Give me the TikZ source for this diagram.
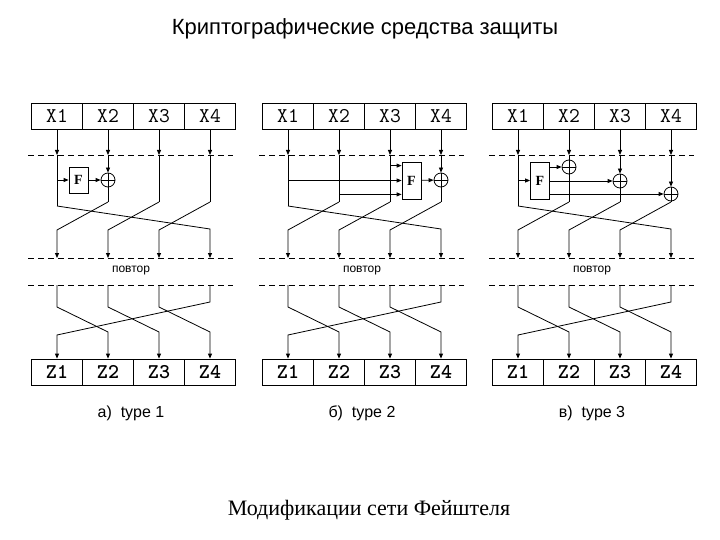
\documentclass[tikz,border=0pt]{standalone}
\usepackage{fontspec}
\setmainfont{Liberation Serif}
\setsansfont{Liberation Sans}
\usetikzlibrary{arrows.meta}

\begin{document}
\begin{tikzpicture}[x=1pt,y=-1pt,line width=0.8pt,
    arr/.style={-{Triangle[length=5pt,width=4pt]}},
    cell/.style={draw,rectangle,minimum width=51pt,minimum height=26pt,inner sep=0pt,
        font=\ttfamily\fontsize{21}{21}\selectfont},
    fblock/.style={draw,rectangle,minimum width=19pt,inner sep=0pt,
        font=\bfseries\fontsize{14}{14}\selectfont},
    xor/.style={draw,circle,minimum size=14pt,inner sep=0pt,
        path picture={\draw (path picture bounding box.north) -- (path picture bounding box.south)
            (path picture bounding box.west) -- (path picture bounding box.east);}},
    dashline/.style={dash pattern=on 6pt off 4pt}]
    \useasboundingbox (0,0) rectangle (720,540);

    % Titles
    \node[anchor=base,font=\sffamily\fontsize{22}{22}\selectfont] (title) at (365,35)
        {Криптографические средства защиты};
    \node[anchor=base,font=\fontsize{22}{22}\selectfont] (caption) at (369,515)
        {Модификации сети Фейштеля};

    % Common parts of the three schemes
    \foreach \o/\d/\name in {0/a/{а)\ \ type 1},231/b/{б)\ \ type 2},461/c/{в)\ \ type 3}} {
        % Define nodes
        \foreach \i in {1,...,4} {
            \pgfmathsetmacro\cx{\o+57+51*(\i-1)}
            \pgfmathsetmacro\yb{\i==1 ? 206 : 202}
            \pgfmathsetmacro\ye{\i==4 ? 229 : 230}
            \pgfmathsetmacro\yc{\i==4 ? 302 : 307}
            \pgfmathsetmacro\yd{\i==1 ? 335 : 332}
            \node[cell] (X\i\d) at (\cx,116) {X\i};
            \node[cell,font=\ttfamily\bfseries\fontsize{21}{21}\selectfont] (Z\i\d) at (\cx,372) {Z\i};
            \coordinate (D1\i\d) at (\cx,155);
            \coordinate (B1\i\d) at (\cx,\yb);
            \coordinate (B2\i\d) at (\cx,\ye);
            \coordinate (D2\i\d) at (\cx,258);
            \coordinate (D3\i\d) at (\cx,285);
            \coordinate (B3\i\d) at (\cx,\yc);
            \coordinate (B4\i\d) at (\cx,\yd);
            \draw[arr] (X\i\d) -- (D1\i\d);
        }
        \node[anchor=base,font=\sffamily\fontsize{12}{12}\selectfont] (rep\d) at (\o+131,272) {повтор};
        \node[anchor=base,font=\sffamily\fontsize{16}{16}\selectfont] (type\d) at (\o+131,417) {\name};

        % Dashed lines
        \draw[dashline] (\o+28,155) -- (\o+233,155);
        \draw[dashline] (\o+28,258) -- (\o+233,258);
        \draw[dashline] (\o+28,285) -- (\o+233,285);

        % Draw arrows
        \foreach \i/\j in {1/4,2/1,3/2,4/3}
            \draw[arr] (B1\i\d) -- (B2\j\d) -- (D2\j\d);
        \foreach \i/\j in {1/2,2/3,3/4,4/1}
            \draw[arr] (D3\i\d) -- (B3\i\d) -- (B4\j\d) -- (Z\j\d);
    }

    % a) type 1
    \node[fblock,minimum height=26pt] (Fa) at (78.5,180) {F};
    \node[xor] (XORa) at (108,180) {};
    \draw (D11a) -- (B11a);
    \draw[arr] (D11a |- Fa) -- (Fa);
    \draw[arr] (Fa) -- (XORa);
    \draw[arr] (D12a) -- (XORa);
    \draw (XORa) -- (B12a);
    \draw (D13a) -- (B13a);
    \draw (D14a) -- (B14a);

    % b) type 2
    \node[fblock,minimum height=37pt] (Fb) at (411.5,180.5) {F};
    \node[xor] (XORb) at (441,180) {};
    \coordinate (Fb1) at (Fb.west);
    \coordinate (Fb2) at ([yshift=5pt]Fb.south west);
    \coordinate (Fb3) at ([yshift=-4pt]Fb.north west);
    \draw (D11b) -- (B11b);
    \draw (D12b) -- (B12b);
    \draw (D13b) -- (B13b);
    \draw[arr] (D11b |- Fb1) -- (Fb1);
    \draw[arr] (D12b |- Fb2) -- (Fb2);
    \draw[arr] (D13b |- Fb3) -- (Fb3);
    \draw[arr] (Fb) -- (XORb);
    \draw[arr] (D14b) -- (XORb);
    \draw (XORb) -- (B14b);

    % c) type 3
    \node[fblock,minimum height=37pt] (Fc) at (540,180.5) {F};
    \node[xor] (XOR2c) at (569,167) {};
    \node[xor] (XOR3c) at (620,181) {};
    \node[xor] (XOR4c) at (671,194) {};
    \draw (D11c) -- (B11c);
    \draw[arr] (D11c |- Fc) -- (Fc);
    \draw (D12c) -- (XOR2c);
    \draw (XOR2c) -- (B12c);
    \draw[arr] (D13c) -- (XOR3c);
    \draw (XOR3c) -- (B13c);
    \draw[arr] (D14c) -- (XOR4c);
    \draw (XOR4c) -- (B14c);
    \draw[arr] (Fc.east |- XOR2c) -- (XOR2c);
    \draw[arr] (Fc.east |- XOR3c) -- (XOR3c);
    \draw[arr] (Fc.east |- XOR4c) -- (XOR4c);
\end{tikzpicture}
\end{document}
